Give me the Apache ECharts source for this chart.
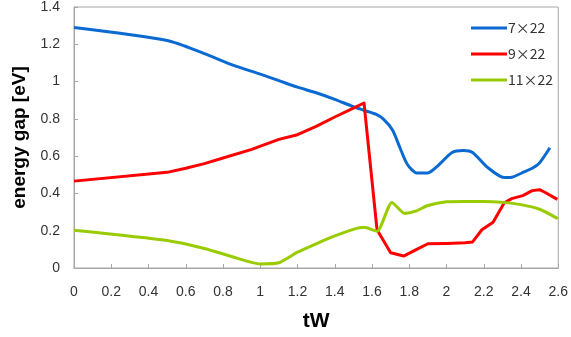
<!DOCTYPE html>
<html><head><meta charset="utf-8">
<script src="https://cdn.jsdelivr.net/npm/echarts@6/dist/echarts.min.js"></script>
<style>html,body{margin:0;padding:0;background:#fff}#c{width:571px;height:337px}</style>
</head><body><div id="c"></div>
<script>
const seriesNames = ['7×22', '9×22', '11×22'];
const blue7x22 = [[0,1.29],[0.5,1.22],[0.7,1.15],[0.85,1.09],[1.0,1.04],[1.1,1.005],[1.2,0.97],[1.3,0.94],[1.4,0.905],[1.5,0.865],[1.56,0.845],[1.62,0.825],[1.66,0.8],[1.71,0.74],[1.75,0.645],[1.79,0.555],[1.84,0.51],[1.9,0.51],[1.95,0.545],[2.03,0.62],[2.09,0.63],[2.14,0.62],[2.22,0.54],[2.31,0.485],[2.35,0.487],[2.42,0.517],[2.46,0.535],[2.5,0.565],[2.555,0.645]];
const red9x22 = [[0,0.466],[0.5,0.513],[0.6,0.535],[0.7,0.56],[0.8,0.59],[0.95,0.635],[1.1,0.69],[1.2,0.715],[1.3,0.76],[1.4,0.81],[1.5,0.857],[1.557,0.885],[1.627,0.205],[1.7,0.082],[1.77,0.064],[1.84,0.1],[1.9,0.13],[2.0,0.132],[2.1,0.135],[2.14,0.14],[2.19,0.205],[2.25,0.245],[2.31,0.35],[2.35,0.372],[2.41,0.388],[2.46,0.415],[2.5,0.42],[2.53,0.405],[2.595,0.368]];
const green11x22 = [[0,0.203],[0.5,0.148],[0.7,0.105],[0.85,0.06],[1.0,0.022],[1.1,0.028],[1.2,0.085],[1.3,0.13],[1.4,0.172],[1.5,0.207],[1.557,0.218],[1.627,0.197],[1.707,0.352],[1.775,0.293],[1.835,0.305],[1.9,0.335],[2.0,0.355],[2.1,0.357],[2.2,0.357],[2.3,0.352],[2.4,0.34],[2.5,0.315],[2.597,0.265]];
const colors = ['#0a6ad2', '#ff0000', '#99cc00'];
const smoothness = [0.25, false, 0.2];
const xTitle = 'tW';
const yTitle = 'energy gap [eV]';

const chart = echarts.init(document.getElementById('c'), null, {renderer: 'canvas'});
const dataSets = [blue7x22, red9x22, green11x22];
const labelFont = {fontFamily: 'Liberation Sans, Arial, sans-serif', fontSize: 14, color: '#333'};
chart.setOption({
  animation: false,
  grid: {left: 74, right: 9, top: 6, bottom: 68, show: true, borderColor: '#a6a6a6', borderWidth: 1},
  legend: {
    orient: 'vertical', left: 466, top: 16, itemGap: 12,
    itemWidth: 36, itemHeight: 3, icon: 'rect',
    textStyle: {fontFamily: 'Noto Sans CJK JP, sans-serif', fontSize: 14, color: '#333', padding: [0,0,0,-4]},
    data: seriesNames
  },
  xAxis: {
    type: 'value', min: 0, max: 2.6, interval: 0.2,
    name: xTitle, nameLocation: 'middle', nameGap: 43,
    nameTextStyle: {fontFamily: 'Liberation Sans, Arial, sans-serif', fontSize: 21, fontWeight: 'bold', color: '#000'},
    axisLine: {show: true, lineStyle: {color: '#a6a6a6', width: 1}},
    axisTick: {show: true, inside: true, length: 4, lineStyle: {color: '#a6a6a6'}},
    axisLabel: Object.assign({margin: 17}, labelFont),
    splitLine: {show: false}
  },
  yAxis: {
    type: 'value', min: 0, max: 1.4, interval: 0.2,
    name: yTitle, nameLocation: 'middle', nameGap: 44, nameRotate: 90,
    nameTextStyle: {fontFamily: 'Liberation Sans, Arial, sans-serif', fontSize: 19, fontWeight: 'bold', color: '#000'},
    axisLine: {show: true, lineStyle: {color: '#a6a6a6', width: 1}},
    axisTick: {show: true, inside: true, length: 4, lineStyle: {color: '#a6a6a6'}},
    axisLabel: Object.assign({margin: 14}, labelFont),
    splitLine: {show: false}
  },
  series: seriesNames.map((n, i) => ({
    name: n, type: 'line', data: dataSets[i], smooth: smoothness[i], showSymbol: false, symbol: 'none',
    lineStyle: {color: colors[i], width: 3, join: 'round'}, itemStyle: {color: colors[i]}
  }))
});
</script></body></html>
